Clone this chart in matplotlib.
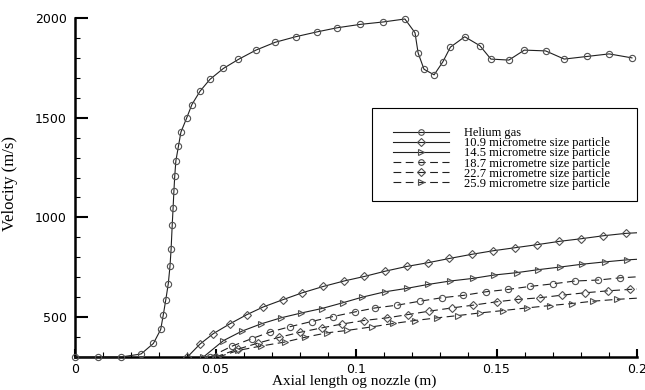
import matplotlib
matplotlib.use("Agg")
import matplotlib.pyplot as plt
from matplotlib.patches import Rectangle
from matplotlib.ticker import MultipleLocator, FixedLocator, FuncFormatter

# Helium gas
he_x = [0.0, 0.0081, 0.0163, 0.0235, 0.0279, 0.0305, 0.0314, 0.0323, 0.0332, 0.0338,
        0.0342, 0.0346, 0.0349, 0.0352, 0.0355, 0.0359, 0.0368, 0.0377, 0.0397, 0.0416,
        0.0445, 0.0480, 0.0528, 0.0581, 0.0644, 0.0712, 0.0785, 0.0860, 0.0933, 0.1015,
        0.1096, 0.1174, 0.1210, 0.1221, 0.1242, 0.1278, 0.1309, 0.1336, 0.1387, 0.1441,
        0.1480, 0.1544, 0.1599, 0.1675, 0.1741, 0.1821, 0.1901, 0.1982]
he_y = [300, 300, 300, 315, 368, 438, 510, 586, 668, 755,
        841, 963, 1045, 1133, 1208, 1284, 1356, 1428, 1497, 1566,
        1633, 1692, 1747, 1792, 1839, 1878, 1906, 1930, 1951, 1968,
        1980, 1995, 1926, 1825, 1743, 1715, 1780, 1854, 1906, 1861,
        1794, 1789, 1839, 1835, 1794, 1807, 1820, 1800]

# 10.9 micrometre
p109_x = [0.0400, 0.0445, 0.0492, 0.0552, 0.0611, 0.0670, 0.0739, 0.0809, 0.0884, 0.0957,
          0.1030, 0.1103, 0.1180, 0.1257, 0.1332, 0.1412, 0.1489, 0.1566, 0.1643, 0.1724,
          0.1801, 0.1880, 0.1960, 0.2000]
p109_y = [300, 365, 417, 467, 512, 551, 587, 622, 654, 681,
          704, 730, 754, 773, 794, 815, 833, 848, 863, 880,
          893, 908, 920, 923]

# 14.5 micrometre
p145_x = [0.0457, 0.0528, 0.0593, 0.0662, 0.0732, 0.0803, 0.0878, 0.0953, 0.1022, 0.1103,
          0.1180, 0.1257, 0.1335, 0.1415, 0.1491, 0.1572, 0.1649, 0.1726, 0.1803, 0.1886,
          0.1963, 0.2000]
p145_y = [300, 382, 429, 466, 496, 520, 543, 572, 600, 627,
          644, 664, 681, 694, 711, 723, 738, 751, 765, 777,
          787, 790]

# 18.7 micrometre
p187_x = [0.0480, 0.0558, 0.0629, 0.0694, 0.0765, 0.0842, 0.0919, 0.0996, 0.1068, 0.1147,
          0.1228, 0.1305, 0.1382, 0.1462, 0.1542, 0.1619, 0.1702, 0.1779, 0.1862, 0.1940,
          0.2000]
p187_y = [300, 354, 392, 425, 452, 478, 503, 526, 546, 560,
          580, 597, 609, 627, 639, 654, 667, 681, 686, 697,
          702]

# 22.7 micrometre
p227_x = [0.0500, 0.0581, 0.0652, 0.0727, 0.0801, 0.0878, 0.0949, 0.1028, 0.1109, 0.1186,
          0.1261, 0.1341, 0.1417, 0.1501, 0.1578, 0.1655, 0.1732, 0.1815, 0.1898, 0.1975,
          0.2000]
p227_y = [300, 340, 370, 399, 424, 446, 465, 483, 496, 513,
          530, 546, 560, 577, 589, 597, 610, 622, 632, 639,
          641]

# 25.9 micrometre
p259_x = [0.0510, 0.0581, 0.0662, 0.0747, 0.0819, 0.0896, 0.0967, 0.1056, 0.1133, 0.1210,
          0.1287, 0.1364, 0.1441, 0.1524, 0.1607, 0.1690, 0.1768, 0.1845, 0.1928, 0.2000]
p259_y = [300, 333, 355, 375, 399, 421, 433, 451, 468, 483,
          496, 508, 521, 533, 546, 558, 568, 580, 589, 595]

labels = ["Helium gas",
          "10.9 micrometre size particle",
          "14.5 micrometre size particle",
          "18.7 micrometre size particle",
          "22.7 micrometre size particle",
          "25.9 micrometre size particle"]

x_ticks = [0, 0.05, 0.1, 0.15, 0.2]
y_ticks = [500, 1000, 1500, 2000]

fig = plt.figure(figsize=(6.45, 3.9), dpi=100)
ax = fig.add_axes([75 / 645, 1 - 357 / 390, 562 / 645, 339 / 390])

dash = (0, (7, 4))
series = [
    (he_x, he_y, "o", "-"),
    (p109_x, p109_y, "D", "-"),
    (p145_x, p145_y, ">", "-"),
    (p187_x, p187_y, "o", dash),
    (p227_x, p227_y, "D", dash),
    (p259_x, p259_y, ">", dash),
]
for (xs, ys, mk, ls), lab in zip(series, labels):
    # last point at x=0.2 is the line end only, no marker there
    every = slice(0, len(xs)) if xs[-1] < 0.2 else slice(0, len(xs) - 1)
    ax.plot(xs, ys, marker=mk, linestyle=ls, markevery=every, label=lab,
            color="#202020", lw=0.8, ms=4.5 if mk != "D" else 4,
            mec="#505050", mfc="none", mew=0.8,
            clip_on=(xs is not he_x), zorder=3)

ax.set_xlim(0, 0.2)
ax.set_ylim(300, 2000)
for s in ["top", "right"]:
    ax.spines[s].set_visible(False)
for s in ["left", "bottom"]:
    ax.spines[s].set_linewidth(1.8)

ax.xaxis.set_major_locator(FixedLocator(x_ticks))
ax.xaxis.set_minor_locator(MultipleLocator(0.01))
ax.yaxis.set_major_locator(FixedLocator(y_ticks))
ax.yaxis.set_minor_locator(MultipleLocator(100))
ax.xaxis.set_major_formatter(FuncFormatter(lambda v, p: f"{v:g}"))
ax.tick_params(which="both", direction="in", labelsize=9)
ax.tick_params(axis="y", which="major", length=9, width=1.5, pad=6)
ax.tick_params(axis="x", which="major", length=6, width=1.5, pad=4)
ax.tick_params(which="minor", length=3.5, width=0.8)

serif = "Liberation Serif"
ax.set_xlabel("Axial length og nozzle (m)", family=serif, fontsize=11)
ax.set_ylabel("Velocity (m/s)", family=serif, fontsize=12)
ax.xaxis.set_label_coords(0.496, -0.052)
ax.yaxis.set_label_coords(-0.101, 0.513)

# legend frame
ax.add_patch(Rectangle((0.5285, 0.4615), 0.4715, 0.2725, transform=ax.transAxes,
                       fill=False, lw=0.8, ec="black", zorder=4, clip_on=False))
ax.legend(loc="upper left", bbox_to_anchor=(0.566, 0.678), frameon=False,
          prop={"family": serif, "size": 9}, handlelength=4.5, handletextpad=1.2,
          labelspacing=-0.15, borderpad=0, borderaxespad=0, markerscale=0.9)

fig.savefig("out.png", dpi=100)
